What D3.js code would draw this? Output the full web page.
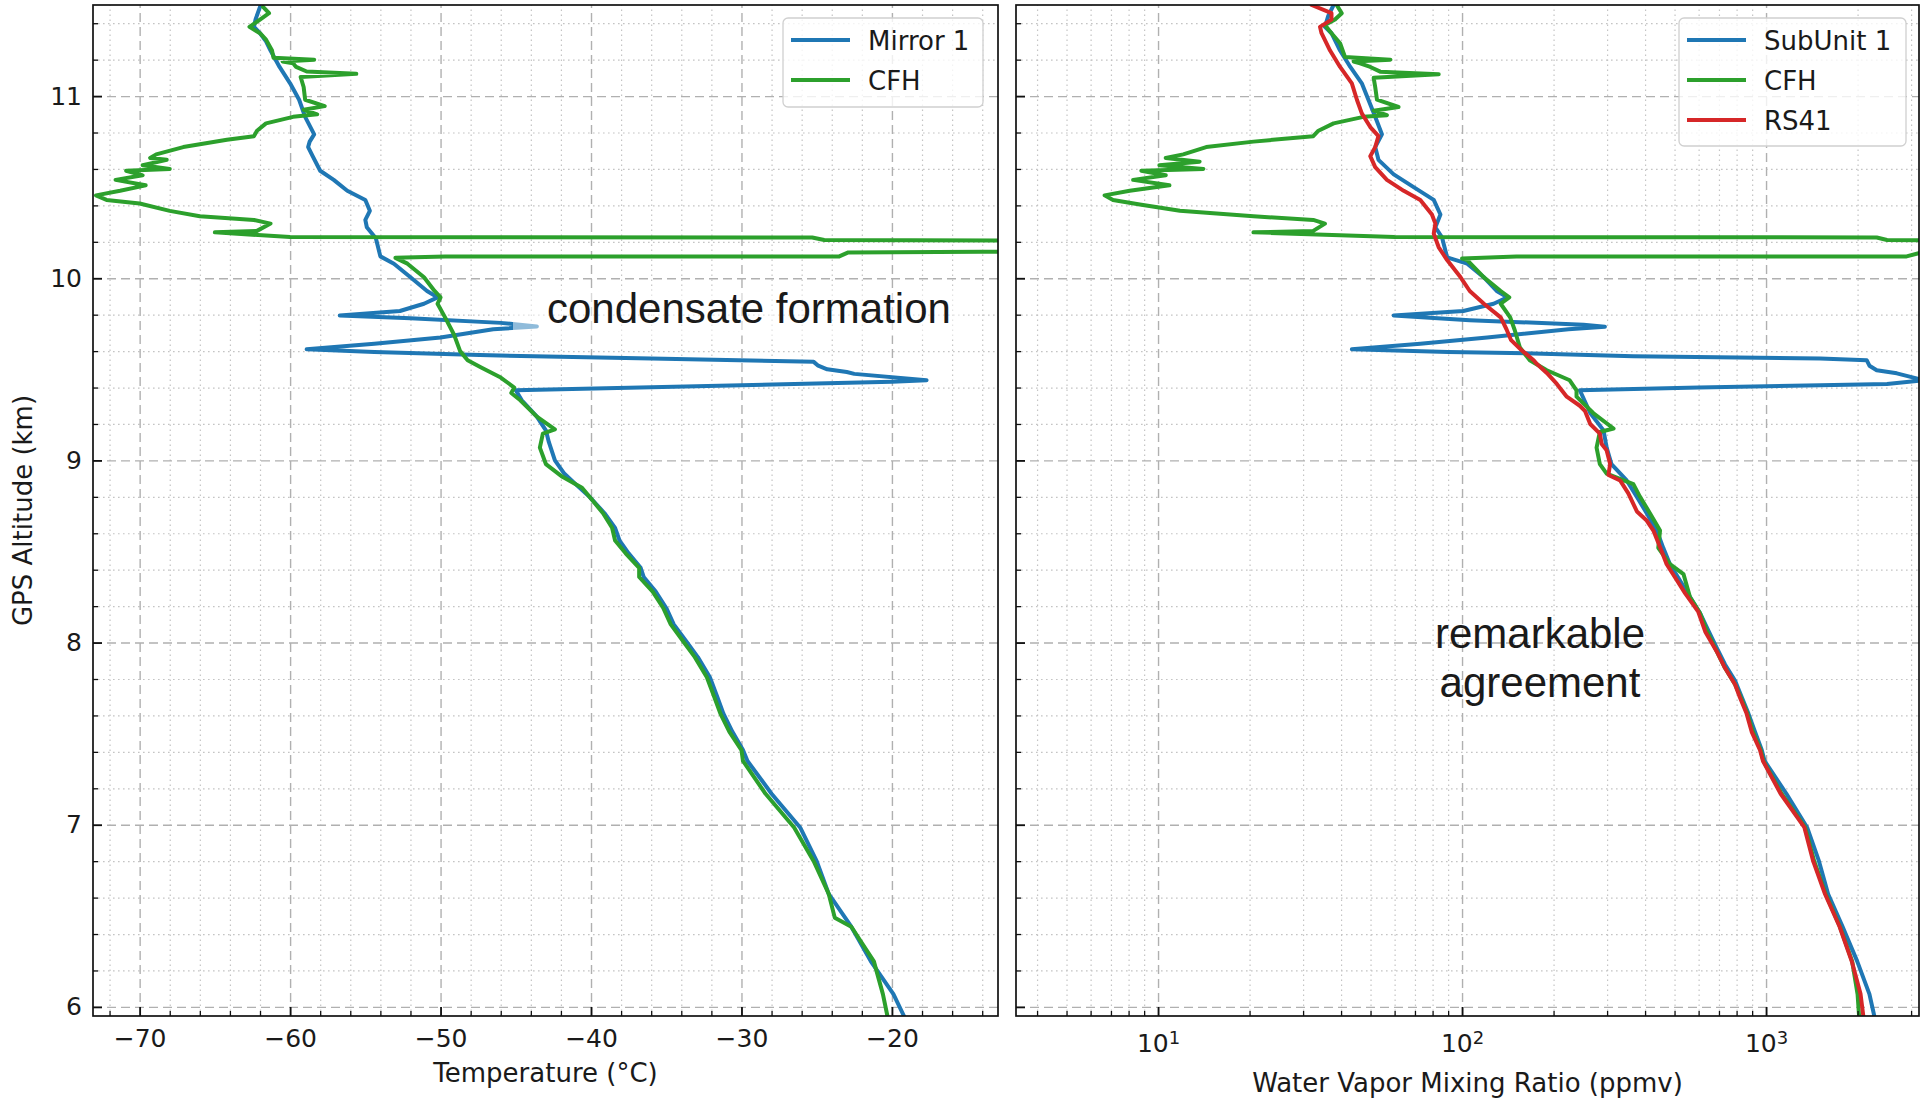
<!DOCTYPE html>
<html>
<head>
<meta charset="utf-8">
<script src="https://cdn.jsdelivr.net/npm/d3@7"></script>
<style>
  body { margin: 0; background: #fff; }
  svg text { font-family: "DejaVu Sans", sans-serif; fill: #1a1a1a; }
</style>
</head>
<body>
<div id="chart"></div>
<script>
// ---- data: [altitude km, value] ----
const mirror1Temp = [[11.49,-62.0],[11.42,-62.3],[11.38,-62.4],[11.345,-62.0],[11.30,-61.6],[11.25,-61.3],[11.16,-60.7],[11.07,-60.0],[10.98,-59.4],[10.886,-59.0],[10.79,-58.4],[10.75,-58.7],[10.72,-58.8],[10.67,-58.5],[10.59,-58.0],[10.54,-57.1],[10.48,-56.2],[10.43,-55.0],[10.37,-54.7],[10.32,-55.0],[10.28,-54.9],[10.22,-54.3],[10.12,-54.0],[10.08,-53.1],[10.005,-52.0],[9.93,-50.9],[9.895,-50.2],[9.86,-51.1],[9.82,-52.7],[9.795,-56.7],[9.78,-52.0],[9.755,-46.0],[9.735,-43.6],[9.72,-46.5],[9.675,-50.0],[9.64,-54.4],[9.61,-58.9],[9.595,-54.4],[9.578,-47.4],[9.56,-36.0],[9.541,-25.2],[9.52,-24.9],[9.50,-24.3],[9.485,-23.0],[9.475,-22.5],[9.44,-17.7],[9.432,-20.0],[9.413,-30.0],[9.385,-45.0],[9.33,-44.6],[9.24,-43.6],[9.165,-43.0],[9.10,-42.8],[9.0,-42.4],[8.93,-41.8],[8.86,-40.9],[8.80,-40.1],[8.71,-39.1],[8.63,-38.4],[8.56,-38.1],[8.49,-37.5],[8.41,-36.7],[8.36,-36.5],[8.28,-35.7],[8.19,-35.0],[8.10,-34.5],[8.01,-33.7],[7.92,-32.9],[7.81,-32.1],[7.70,-31.6],[7.61,-31.2],[7.51,-30.6],[7.41,-29.9],[7.35,-29.6],[7.17,-28.0],[6.985,-26.1],[6.80,-25.0],[6.62,-24.2],[6.44,-22.7],[6.25,-21.4],[6.07,-19.9],[5.95,-19.2]];

const cfhTemp = [[11.49,-61.8],[11.455,-61.4],[11.42,-62.0],[11.38,-62.7],[11.345,-62.0],[11.31,-61.6],[11.25,-61.2],[11.21,-61.1],[11.20,-58.4],[11.19,-60.5],[11.18,-59.8],[11.16,-59.6],[11.135,-58.9],[11.122,-55.6],[11.105,-59.3],[11.05,-59.1],[10.98,-59.0],[10.945,-57.7],[10.925,-59.1],[10.90,-58.2],[10.886,-59.8],[10.85,-61.6],[10.81,-62.2],[10.78,-62.4],[10.76,-64.2],[10.72,-67.1],[10.68,-68.9],[10.66,-69.3],[10.65,-68.2],[10.62,-69.8],[10.60,-68.0],[10.59,-70.9],[10.565,-69.8],[10.54,-71.6],[10.51,-69.6],[10.48,-71.3],[10.455,-72.9],[10.43,-72.2],[10.41,-70.0],[10.37,-68.0],[10.34,-66.0],[10.32,-62.4],[10.30,-61.3],[10.26,-62.2],[10.252,-65.0],[10.226,-60.0],[10.224,-25.3],[10.21,-24.5],[10.205,0],[10.15,0],[10.145,-14.0],[10.142,-22.9],[10.12,-23.5],[10.12,-49.7],[10.112,-53.0],[10.08,-52.2],[10.005,-51.1],[9.93,-50.4],[9.895,-50.0],[9.86,-50.2],[9.785,-49.7],[9.69,-49.1],[9.60,-48.7],[9.55,-48.2],[9.51,-47.3],[9.455,-46.0],[9.40,-45.1],[9.37,-45.3],[9.33,-44.7],[9.24,-43.6],[9.17,-42.4],[9.147,-43.2],[9.07,-43.4],[8.98,-43.0],[8.91,-41.9],[8.85,-40.6],[8.80,-40.1],[8.71,-39.2],[8.63,-38.6],[8.56,-38.4],[8.49,-37.7],[8.41,-36.8],[8.36,-36.8],[8.28,-35.9],[8.19,-35.2],[8.10,-34.7],[8.01,-33.9],[7.92,-33.1],[7.81,-32.3],[7.70,-31.8],[7.61,-31.4],[7.51,-30.8],[7.41,-30.0],[7.35,-29.9],[7.17,-28.4],[6.985,-26.5],[6.80,-25.2],[6.62,-24.2],[6.49,-23.8],[6.44,-22.7],[6.25,-21.2],[6.07,-20.6],[5.95,-20.3]];

const subunitWv = [[11.50,37.8],[11.44,36.3],[11.38,35.4],[11.345,37.2],[11.25,39.7],[11.16,42.9],[11.07,46.8],[10.98,49.2],[10.886,51.8],[10.79,54.5],[10.72,51.8],[10.65,53.1],[10.57,59.6],[10.50,69.3],[10.43,80.7],[10.35,84.9],[10.28,81.7],[10.225,85.9],[10.115,89.3],[10.08,104],[10.005,118],[9.93,130],[9.895,141],[9.86,127],[9.82,101],[9.795,59.6],[9.77,106],[9.745,251],[9.734,295],[9.72,224],[9.675,121],[9.64,72.9],[9.61,43.4],[9.595,90],[9.587,172],[9.572,366],[9.56,1507],[9.55,2143],[9.52,2188],[9.495,2312],[9.478,2692],[9.44,3300],[9.42,2500],[9.413,1507],[9.40,600],[9.385,244],[9.26,264],[9.165,292],[9.07,299],[8.98,310],[8.89,348],[8.80,376],[8.71,405],[8.615,437],[8.52,459],[8.43,483],[8.34,521],[8.25,562],[8.16,607],[8.065,646],[7.97,689],[7.88,733],[7.79,791],[7.70,832],[7.61,875],[7.51,920],[7.41,968],[7.35,989],[7.17,1167],[6.985,1365],[6.80,1493],[6.62,1600],[6.44,1786],[6.25,1995],[6.07,2188],[5.95,2270]];

const cfhWv = [[11.50,38.7],[11.455,40.2],[11.42,38.2],[11.39,35.4],[11.345,37.2],[11.29,39.7],[11.215,41.2],[11.20,58.1],[11.19,44.0],[11.18,46.2],[11.16,49.9],[11.134,53.8],[11.12,83.8],[11.10,51.2],[11.05,51.8],[10.98,52.5],[10.94,61.8],[10.92,51.2],[10.895,56.6],[10.886,47.4],[10.85,37.8],[10.81,33.7],[10.78,32.4],[10.75,20.6],[10.72,14.4],[10.68,12.1],[10.66,10.6],[10.64,13.7],[10.62,10.1],[10.60,14.1],[10.59,8.81],[10.565,10.6],[10.54,8.28],[10.51,10.9],[10.48,8.07],[10.455,6.67],[10.43,7.11],[10.405,8.71],[10.37,11.8],[10.34,20.6],[10.32,32.4],[10.30,35.4],[10.26,32.4],[10.252,20.6],[10.226,60],[10.224,2312],[10.21,2500],[10.205,6000],[10.15,6000],[10.145,3300],[10.12,2900],[10.12,151],[10.108,100],[10.10,104],[10.005,118],[9.93,134],[9.895,143],[9.86,134],[9.785,144],[9.716,149],[9.62,155],[9.55,167],[9.495,190],[9.44,226],[9.385,238],[9.35,238],[9.26,270],[9.175,315],[9.156,284],[9.07,277],[8.98,284],[8.927,299],[8.87,366],[8.80,385],[8.71,415],[8.615,448],[8.52,442],[8.43,483],[8.376,535],[8.25,562],[8.16,607],[8.06,640],[7.95,689],[7.86,733],[7.77,791],[7.70,825],[7.61,868],[7.51,905],[7.41,960],[7.35,980],[7.17,1125],[6.985,1345],[6.80,1440],[6.62,1570],[6.44,1750],[6.25,1920],[6.07,2000],[5.95,2023]];

const rs41Wv = [[11.50,32.0],[11.455,37.2],[11.42,37.2],[11.38,34.1],[11.345,34.5],[11.25,36.8],[11.16,39.7],[11.07,43.4],[10.98,45.1],[10.905,46.8],[10.83,49.9],[10.78,53.1],[10.72,51.8],[10.67,49.9],[10.61,51.8],[10.54,56.6],[10.48,64.3],[10.43,72.9],[10.35,79.6],[10.30,81.7],[10.245,80.7],[10.17,83.8],[10.10,89.3],[10.005,98.9],[9.93,106],[9.86,118],[9.785,134],[9.72,140],[9.66,145],[9.605,157],[9.55,172],[9.53,176],[9.48,190],[9.42,205],[9.35,221],[9.30,244],[9.27,254],[9.20,264],[9.147,284],[9.09,288],[9.055,299],[8.98,307],[8.92,303],[8.89,331],[8.82,352],[8.72,376],[8.67,405],[8.615,426],[8.50,454],[8.43,471],[8.36,501],[8.27,542],[8.17,598],[8.06,631],[7.95,689],[7.86,733],[7.77,791],[7.70,820],[7.61,863],[7.51,897],[7.41,955],[7.35,977],[7.17,1117],[6.985,1337],[6.80,1429],[6.62,1563],[6.44,1746],[6.25,1914],[6.07,2046],[5.95,2089]];

// ---- ticks ----
const altMajor = [6, 7, 8, 9, 10, 11];
const altMinor = d3.range(6.2, 11.5, 0.2).filter(v => Math.abs(v - Math.round(v)) > 0.05);
const tempMajor = [-70, -60, -50, -40, -30, -20];
const tempMinor = d3.range(-72, -12, 2).filter(v => v % 10 !== 0);
const wvMajor = [10, 100, 1000];
const wvMinor = [4, 5, 6, 7, 8, 9, 20, 30, 40, 50, 60, 70, 80, 90, 200, 300, 400, 500, 600, 700, 800, 900, 2000, 3000];

const colors = { blue: "#1f77b4", green: "#2ca02c", red: "#d62728" };

const W = 1927, H = 1098;
const plotTop = 5, plotBottom = 1016;

const svg = d3.select("#chart").append("svg")
    .attr("width", W)
    .attr("height", H);

const y = d3.scaleLinear().domain([5.95, 11.5]).range([plotBottom, plotTop]);
const xT = d3.scaleLinear().domain([-73.1, -12.95]).range([93, 998]);
const xW = d3.scaleLog().domain([3.41, 3185]).range([1016, 1919]);

function styleGrid(sel, dashed) {
    sel.select(".domain").remove();
    sel.selectAll("line")
        .attr("stroke", dashed ? "#b0b0b0" : "#c4c4c4")
        .attr("stroke-width", dashed ? 1.4 : 1.2)
        .attr("stroke-dasharray", dashed ? "9,5" : "1.6,3.4");
}

function panel(id, x, major, minor, series, legendItems, legendBox, fmtLog) {
    const [x0, x1] = x.range();
    const g = svg.append("g");
    const h = plotBottom - plotTop;

    g.append("clipPath").attr("id", "clip-" + id)
        .append("rect")
        .attr("x", x0).attr("y", plotTop)
        .attr("width", x1 - x0).attr("height", h);

    // grid, minor first then major
    g.append("g").attr("transform", `translate(0,${plotBottom})`)
        .call(d3.axisBottom(x).tickValues(minor).tickSize(-h).tickFormat(""))
        .call(s => styleGrid(s, false));
    g.append("g").attr("transform", `translate(${x0},0)`)
        .call(d3.axisLeft(y).tickValues(altMinor).tickSize(-(x1 - x0)).tickFormat(""))
        .call(s => styleGrid(s, false));
    g.append("g").attr("transform", `translate(0,${plotBottom})`)
        .call(d3.axisBottom(x).tickValues(major).tickSize(-h).tickFormat(""))
        .call(s => styleGrid(s, true));
    g.append("g").attr("transform", `translate(${x0},0)`)
        .call(d3.axisLeft(y).tickValues(altMajor).tickSize(-(x1 - x0)).tickFormat(""))
        .call(s => styleGrid(s, true));

    // data lines
    const line = d3.line().x(d => x(d[1])).y(d => y(d[0]));
    g.append("g").attr("clip-path", `url(#clip-${id})`)
        .selectAll("path")
        .data(series)
        .join("path")
        .attr("d", d => line(d.values))
        .attr("fill", "none")
        .attr("stroke", d => d.color)
        .attr("stroke-width", 4)
        .attr("stroke-linejoin", "round")
        .attr("stroke-linecap", "round");

    // frame
    g.append("rect")
        .attr("x", x0).attr("y", plotTop)
        .attr("width", x1 - x0).attr("height", h)
        .attr("fill", "none").attr("stroke", "#111").attr("stroke-width", 1.7);

    // ticks pointing in
    const xMajAxis = g.append("g").attr("transform", `translate(0,${plotBottom})`)
        .call(d3.axisBottom(x).tickValues(major).tickSize(-9).tickPadding(fmtLog ? 18 : 13)
            .tickFormat(fmtLog ? () => "" : d => d3.format("d")(d).replace("-", "\u2212")));
    xMajAxis.select(".domain").remove();
    xMajAxis.attr("font-family", null).attr("font-size", null);
    xMajAxis.selectAll("line").attr("stroke", "#111").attr("stroke-width", 1.8);
    xMajAxis.selectAll("text").attr("font-size", 25);
    if (fmtLog) {
        xMajAxis.selectAll("text").each(function (d) {
            const t = d3.select(this);
            t.append("tspan").text("10");
            t.append("tspan").attr("dy", "-0.42em").attr("font-size", 18).text(Math.round(Math.log10(d)));
        });
    }

    const xMinAxis = g.append("g").attr("transform", `translate(0,${plotBottom})`)
        .call(d3.axisBottom(x).tickValues(minor).tickSize(-5).tickFormat(""));
    xMinAxis.select(".domain").remove();
    xMinAxis.selectAll("line").attr("stroke", "#111").attr("stroke-width", 1.3);

    const yMajAxis = g.append("g").attr("transform", `translate(${x0},0)`)
        .call(d3.axisLeft(y).tickValues(altMajor).tickSize(-9).tickPadding(11)
            .tickFormat(id === "t" ? d3.format("d") : () => ""));
    yMajAxis.select(".domain").remove();
    yMajAxis.attr("font-family", null).attr("font-size", null);
    yMajAxis.selectAll("line").attr("stroke", "#111").attr("stroke-width", 1.8);
    yMajAxis.selectAll("text").attr("font-size", 25);

    const yMinAxis = g.append("g").attr("transform", `translate(${x0},0)`)
        .call(d3.axisLeft(y).tickValues(altMinor).tickSize(-5).tickFormat(""));
    yMinAxis.select(".domain").remove();
    yMinAxis.selectAll("line").attr("stroke", "#111").attr("stroke-width", 1.3);

    // legend
    const lg = g.append("g");
    lg.append("rect")
        .attr("x", legendBox[0]).attr("y", legendBox[1])
        .attr("width", legendBox[2]).attr("height", legendBox[3])
        .attr("rx", 5)
        .attr("fill", "white").attr("fill-opacity", 0.8)
        .attr("stroke", "#d0d0d0").attr("stroke-width", 1.3);
    const item = lg.selectAll("g.item")
        .data(legendItems)
        .join("g")
        .attr("class", "item")
        .attr("transform", (d, i) => `translate(${legendBox[0] + 8},${40 + i * 40})`);
    item.append("line")
        .attr("x1", 0).attr("x2", 59)
        .attr("stroke", d => d.color).attr("stroke-width", 4);
    item.append("text")
        .attr("x", 77).attr("y", 9.5)
        .attr("font-size", 26)
        .text(d => d.name);
}

panel("t", xT, tempMajor, tempMinor,
    [{ values: mirror1Temp, color: colors.blue }, { values: cfhTemp, color: colors.green }],
    [{ name: "Mirror 1", color: colors.blue }, { name: "CFH", color: colors.green }],
    [783, 18, 200, 89], false);

panel("w", xW, wvMajor, wvMinor,
    [{ values: subunitWv, color: colors.blue }, { values: cfhWv, color: colors.green }, { values: rs41Wv, color: colors.red }],
    [{ name: "SubUnit 1", color: colors.blue }, { name: "CFH", color: colors.green }, { name: "RS41", color: colors.red }],
    [1679, 18, 227, 128], true);

// axis labels
svg.append("text")
    .attr("transform", "translate(32,510.5) rotate(-90)")
    .attr("text-anchor", "middle")
    .attr("font-size", 26)
    .text("GPS Altitude (km)");
svg.append("text")
    .attr("x", 545.5).attr("y", 1082)
    .attr("text-anchor", "middle")
    .attr("font-size", 26)
    .text("Temperature (°C)");
svg.append("text")
    .attr("x", 1467.5).attr("y", 1092)
    .attr("text-anchor", "middle")
    .attr("font-size", 26)
    .text("Water Vapor Mixing Ratio (ppmv)");

// annotations
svg.append("rect")
    .attr("x", 513).attr("y", 290)
    .attr("width", 450).attr("height", 46)
    .attr("fill", "white").attr("fill-opacity", 0.5);
svg.append("text")
    .attr("x", 547).attr("y", 323)
    .style("font-family", "'Liberation Sans', Arial, sans-serif")
    .attr("font-size", 42)
    .attr("fill", "#000")
    .text("condensate formation");
svg.append("text")
    .attr("text-anchor", "middle")
    .style("font-family", "'Liberation Sans', Arial, sans-serif")
    .attr("font-size", 42)
    .attr("fill", "#000")
    .selectAll("tspan")
    .data(["remarkable", "agreement"])
    .join("tspan")
    .attr("x", 1540)
    .attr("y", (d, i) => 648 + i * 49)
    .text(d => d);
</script>
</body>
</html>
